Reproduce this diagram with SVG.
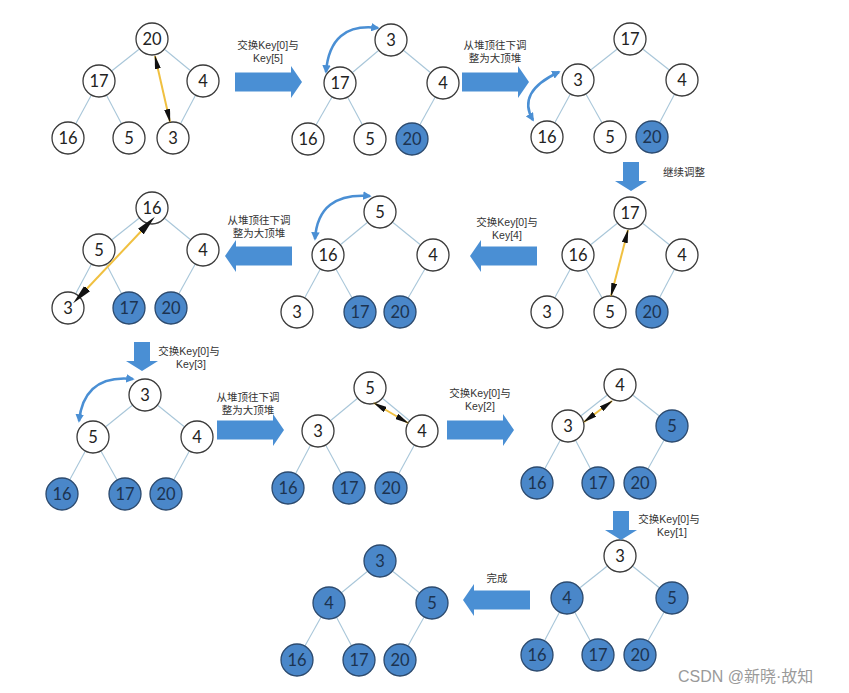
<svg xmlns="http://www.w3.org/2000/svg" width="849" height="693" viewBox="0 0 849 693">
<defs>
<style>
.n circle{fill:#fff;stroke:#3a3a3a;stroke-width:1.3}
.n text{font-family:Lato,"Open Sans","Liberation Sans",sans-serif;font-size:16.5px;fill:#222;text-anchor:middle}
.f circle{fill:#4a87c9;stroke:#2c4a6e}
.f text{fill:#1c3350}
.e line{stroke:#a8c6d9;stroke-width:1.1}
.lbl{font-family:"Liberation Sans","Noto Sans CJK SC",sans-serif;font-size:10.5px;fill:#333;text-anchor:middle}
.ba{fill:#4a8fd4}
.cv{fill:none;stroke:#4a8fd4;stroke-width:2.5;marker-start:url(#bh);marker-end:url(#bh)}
.ya{stroke:#f0c040;stroke-width:2;marker-start:url(#kh);marker-end:url(#kh)}
.yb{stroke:#f0c040;stroke-width:2;marker-start:url(#kb);marker-end:url(#kb)}
.wm{font-family:"Liberation Sans","Noto Sans CJK SC",sans-serif;font-size:16px;fill:#9a9a9a}
</style>
<marker id="bh" viewBox="0 0 10 10" refX="8" refY="5" markerWidth="3.4" markerHeight="3.4" orient="auto-start-reverse" markerUnits="strokeWidth"><path d="M0,0 L10,5 L0,10 Z" fill="#4a8fd4"/></marker>
<marker id="kh" viewBox="0 0 14 6" refX="13" refY="3" markerWidth="14" markerHeight="6" orient="auto-start-reverse" markerUnits="userSpaceOnUse"><path d="M0,0 L14,3 L0,6 Z" fill="#111"/></marker>
<marker id="kb" viewBox="0 0 20 10" refX="10" refY="5" markerWidth="20" markerHeight="10" orient="auto-start-reverse" markerUnits="userSpaceOnUse"><path d="M-6,0 L20,5 L-6,10 Z" fill="#111"/></marker>
<path id="ar" d="M0,-9.5 H56 V-16 L67,0 L56,16 V9.5 H0 Z"/>
<path id="ad" d="M-8,0 H8 V19 H16 L0,29 L-16,19 H-8 Z"/>
</defs>
<rect width="849" height="693" fill="#fff"/>

<g id="connectors">
<g class="e">
<line x1="152" y1="39" x2="99" y2="81"/><line x1="152" y1="39" x2="203" y2="81"/><line x1="99" y1="81" x2="68" y2="138"/><line x1="99" y1="81" x2="129" y2="138"/><line x1="203" y1="81" x2="173" y2="138"/>
<line x1="391" y1="40" x2="340" y2="83"/><line x1="391" y1="40" x2="443" y2="83"/><line x1="340" y1="83" x2="308" y2="139"/><line x1="340" y1="83" x2="370" y2="139"/><line x1="443" y1="83" x2="412" y2="139"/>
<line x1="630" y1="39" x2="578" y2="80"/><line x1="630" y1="39" x2="682" y2="80"/><line x1="578" y1="80" x2="547" y2="137"/><line x1="578" y1="80" x2="610" y2="137"/><line x1="682" y1="80" x2="652" y2="137"/>
<line x1="630" y1="213" x2="578" y2="255"/><line x1="630" y1="213" x2="682" y2="255"/><line x1="578" y1="255" x2="547" y2="312"/><line x1="578" y1="255" x2="610" y2="312"/><line x1="682" y1="255" x2="652" y2="312"/>
<line x1="380" y1="212" x2="328" y2="255"/><line x1="380" y1="212" x2="433" y2="255"/><line x1="328" y1="255" x2="297" y2="312"/><line x1="328" y1="255" x2="360" y2="312"/><line x1="433" y1="255" x2="400" y2="312"/>
<line x1="152" y1="208" x2="99" y2="250"/><line x1="152" y1="208" x2="203" y2="250"/><line x1="99" y1="250" x2="68" y2="308"/><line x1="99" y1="250" x2="129" y2="308"/><line x1="203" y1="250" x2="171" y2="308"/>
<line x1="145" y1="395" x2="93" y2="437"/><line x1="145" y1="395" x2="197" y2="437"/><line x1="93" y1="437" x2="62" y2="494"/><line x1="93" y1="437" x2="125" y2="494"/><line x1="197" y1="437" x2="166" y2="494"/>
<line x1="370" y1="388" x2="318" y2="431"/><line x1="370" y1="388" x2="422" y2="431"/><line x1="318" y1="431" x2="288" y2="488"/><line x1="318" y1="431" x2="349" y2="488"/><line x1="422" y1="431" x2="391" y2="488"/>
<line x1="620" y1="385" x2="568" y2="426"/><line x1="620" y1="385" x2="672" y2="426"/><line x1="568" y1="426" x2="537" y2="483"/><line x1="568" y1="426" x2="598" y2="483"/><line x1="672" y1="426" x2="640" y2="483"/>
<line x1="620" y1="556" x2="567" y2="598"/><line x1="620" y1="556" x2="672" y2="598"/><line x1="567" y1="598" x2="537" y2="655"/><line x1="567" y1="598" x2="598" y2="655"/><line x1="672" y1="598" x2="640" y2="655"/>
<line x1="380" y1="561" x2="329" y2="603"/><line x1="380" y1="561" x2="432" y2="603"/><line x1="329" y1="603" x2="297" y2="660"/><line x1="329" y1="603" x2="359" y2="660"/><line x1="432" y1="603" x2="400" y2="660"/>
</g>
</g>

<g id="nodes">
<g id="t1-root" class="n"><circle cx="152" cy="39" r="16"/><text x="152" y="45">20</text></g>
<g id="t1-l" class="n"><circle cx="99" cy="81" r="16"/><text x="99" y="87">17</text></g>
<g id="t1-r" class="n"><circle cx="203" cy="81" r="16"/><text x="203" y="87">4</text></g>
<g id="t1-ll" class="n"><circle cx="68" cy="138" r="16"/><text x="68" y="144">16</text></g>
<g id="t1-lr" class="n"><circle cx="129" cy="138" r="16"/><text x="129" y="144">5</text></g>
<g id="t1-rl" class="n"><circle cx="173" cy="138" r="16"/><text x="173" y="144">3</text></g>
<g id="t2-root" class="n"><circle cx="391" cy="40" r="16"/><text x="391" y="46">3</text></g>
<g id="t2-l" class="n"><circle cx="340" cy="83" r="16"/><text x="340" y="89">17</text></g>
<g id="t2-r" class="n"><circle cx="443" cy="83" r="16"/><text x="443" y="89">4</text></g>
<g id="t2-ll" class="n"><circle cx="308" cy="139" r="16"/><text x="308" y="145">16</text></g>
<g id="t2-lr" class="n"><circle cx="370" cy="139" r="16"/><text x="370" y="145">5</text></g>
<g id="t2-rl" class="n f"><circle cx="412" cy="139" r="16"/><text x="412" y="145">20</text></g>
<g id="t3-root" class="n"><circle cx="630" cy="39" r="16"/><text x="630" y="45">17</text></g>
<g id="t3-l" class="n"><circle cx="578" cy="80" r="16"/><text x="578" y="86">3</text></g>
<g id="t3-r" class="n"><circle cx="682" cy="80" r="16"/><text x="682" y="86">4</text></g>
<g id="t3-ll" class="n"><circle cx="547" cy="137" r="16"/><text x="547" y="143">16</text></g>
<g id="t3-lr" class="n"><circle cx="610" cy="137" r="16"/><text x="610" y="143">5</text></g>
<g id="t3-rl" class="n f"><circle cx="652" cy="137" r="16"/><text x="652" y="143">20</text></g>
<g id="t4-root" class="n"><circle cx="630" cy="213" r="16"/><text x="630" y="219">17</text></g>
<g id="t4-l" class="n"><circle cx="578" cy="255" r="16"/><text x="578" y="261">16</text></g>
<g id="t4-r" class="n"><circle cx="682" cy="255" r="16"/><text x="682" y="261">4</text></g>
<g id="t4-ll" class="n"><circle cx="547" cy="312" r="16"/><text x="547" y="318">3</text></g>
<g id="t4-lr" class="n"><circle cx="610" cy="312" r="16"/><text x="610" y="318">5</text></g>
<g id="t4-rl" class="n f"><circle cx="652" cy="312" r="16"/><text x="652" y="318">20</text></g>
<g id="t5-root" class="n"><circle cx="380" cy="212" r="16"/><text x="380" y="218">5</text></g>
<g id="t5-l" class="n"><circle cx="328" cy="255" r="16"/><text x="328" y="261">16</text></g>
<g id="t5-r" class="n"><circle cx="433" cy="255" r="16"/><text x="433" y="261">4</text></g>
<g id="t5-ll" class="n"><circle cx="297" cy="312" r="16"/><text x="297" y="318">3</text></g>
<g id="t5-lr" class="n f"><circle cx="360" cy="312" r="16"/><text x="360" y="318">17</text></g>
<g id="t5-rl" class="n f"><circle cx="400" cy="312" r="16"/><text x="400" y="318">20</text></g>
<g id="t6-root" class="n"><circle cx="152" cy="208" r="16"/><text x="152" y="214">16</text></g>
<g id="t6-l" class="n"><circle cx="99" cy="250" r="16"/><text x="99" y="256">5</text></g>
<g id="t6-r" class="n"><circle cx="203" cy="250" r="16"/><text x="203" y="256">4</text></g>
<g id="t6-ll" class="n"><circle cx="68" cy="308" r="16"/><text x="68" y="314">3</text></g>
<g id="t6-lr" class="n f"><circle cx="129" cy="308" r="16"/><text x="129" y="314">17</text></g>
<g id="t6-rl" class="n f"><circle cx="171" cy="308" r="16"/><text x="171" y="314">20</text></g>
<g id="t7-root" class="n"><circle cx="145" cy="395" r="16"/><text x="145" y="401">3</text></g>
<g id="t7-l" class="n"><circle cx="93" cy="437" r="16"/><text x="93" y="443">5</text></g>
<g id="t7-r" class="n"><circle cx="197" cy="437" r="16"/><text x="197" y="443">4</text></g>
<g id="t7-ll" class="n f"><circle cx="62" cy="494" r="16"/><text x="62" y="500">16</text></g>
<g id="t7-lr" class="n f"><circle cx="125" cy="494" r="16"/><text x="125" y="500">17</text></g>
<g id="t7-rl" class="n f"><circle cx="166" cy="494" r="16"/><text x="166" y="500">20</text></g>
<g id="t8-root" class="n"><circle cx="370" cy="388" r="16"/><text x="370" y="394">5</text></g>
<g id="t8-l" class="n"><circle cx="318" cy="431" r="16"/><text x="318" y="437">3</text></g>
<g id="t8-r" class="n"><circle cx="422" cy="431" r="16"/><text x="422" y="437">4</text></g>
<g id="t8-ll" class="n f"><circle cx="288" cy="488" r="16"/><text x="288" y="494">16</text></g>
<g id="t8-lr" class="n f"><circle cx="349" cy="488" r="16"/><text x="349" y="494">17</text></g>
<g id="t8-rl" class="n f"><circle cx="391" cy="488" r="16"/><text x="391" y="494">20</text></g>
<g id="t9-root" class="n"><circle cx="620" cy="385" r="16"/><text x="620" y="391">4</text></g>
<g id="t9-l" class="n"><circle cx="568" cy="426" r="16"/><text x="568" y="432">3</text></g>
<g id="t9-r" class="n f"><circle cx="672" cy="426" r="16"/><text x="672" y="432">5</text></g>
<g id="t9-ll" class="n f"><circle cx="537" cy="483" r="16"/><text x="537" y="489">16</text></g>
<g id="t9-lr" class="n f"><circle cx="598" cy="483" r="16"/><text x="598" y="489">17</text></g>
<g id="t9-rl" class="n f"><circle cx="640" cy="483" r="16"/><text x="640" y="489">20</text></g>
<g id="t10-root" class="n"><circle cx="620" cy="556" r="16"/><text x="620" y="562">3</text></g>
<g id="t10-l" class="n f"><circle cx="567" cy="598" r="16"/><text x="567" y="604">4</text></g>
<g id="t10-r" class="n f"><circle cx="672" cy="598" r="16"/><text x="672" y="604">5</text></g>
<g id="t10-ll" class="n f"><circle cx="537" cy="655" r="16"/><text x="537" y="661">16</text></g>
<g id="t10-lr" class="n f"><circle cx="598" cy="655" r="16"/><text x="598" y="661">17</text></g>
<g id="t10-rl" class="n f"><circle cx="640" cy="655" r="16"/><text x="640" y="661">20</text></g>
<g id="t11-root" class="n f"><circle cx="380" cy="561" r="16"/><text x="380" y="567">3</text></g>
<g id="t11-l" class="n f"><circle cx="329" cy="603" r="16"/><text x="329" y="609">4</text></g>
<g id="t11-r" class="n f"><circle cx="432" cy="603" r="16"/><text x="432" y="609">5</text></g>
<g id="t11-ll" class="n f"><circle cx="297" cy="660" r="16"/><text x="297" y="666">16</text></g>
<g id="t11-lr" class="n f"><circle cx="359" cy="660" r="16"/><text x="359" y="666">17</text></g>
<g id="t11-rl" class="n f"><circle cx="400" cy="660" r="16"/><text x="400" y="666">20</text></g>
</g>

<g id="swaps">
<line class="ya" x1="155" y1="56" x2="170" y2="122"/>
<line class="ya" x1="628" y1="230" x2="611" y2="296"/>
<line class="yb" x1="148" y1="224" x2="80" y2="296"/>
<line class="ya" x1="374" y1="403" x2="408" y2="423"/>
<line class="ya" x1="584" y1="422" x2="612" y2="401"/>
<path class="cv" d="M326,72 Q330,22 378,28"/>
<path class="cv" d="M559,72 Q516,92 533,120"/>
<path class="cv" d="M315,239 Q318,192 370,196"/>
<path class="cv" d="M79,421 Q84,374 133,379"/>
</g>

<g id="steps">
<use href="#ar" class="ba" transform="translate(235,82)"/>
<use href="#ar" class="ba" transform="translate(462,82)"/>
<use href="#ad" class="ba" transform="translate(631,162)"/>
<use href="#ar" class="ba" transform="translate(537,256) rotate(180)"/>
<use href="#ar" class="ba" transform="translate(292,256) rotate(180)"/>
<use href="#ad" class="ba" transform="translate(142,342)"/>
<use href="#ar" class="ba" transform="translate(217,430)"/>
<use href="#ar" class="ba" transform="translate(447,430)"/>
<use href="#ad" class="ba" transform="translate(621,511)"/>
<use href="#ar" class="ba" transform="translate(530,600) rotate(180)"/>
</g>

<g id="labels">
<text class="lbl" x="268" y="49">交换Key[0]与</text>
<text class="lbl" x="268" y="62">Key[5]</text>
<text class="lbl" x="495" y="49">从堆顶往下调</text>
<text class="lbl" x="495" y="62">整为大顶堆</text>
<text class="lbl" x="684" y="176">继续调整</text>
<text class="lbl" x="507" y="226">交换Key[0]与</text>
<text class="lbl" x="507" y="239">Key[4]</text>
<text class="lbl" x="259" y="224">从堆顶往下调</text>
<text class="lbl" x="259" y="237">整为大顶堆</text>
<text class="lbl" x="189" y="355">交换Key[0]与</text>
<text class="lbl" x="191" y="368">Key[3]</text>
<text class="lbl" x="248" y="401">从堆顶往下调</text>
<text class="lbl" x="248" y="414">整为大顶堆</text>
<text class="lbl" x="480" y="397">交换Key[0]与</text>
<text class="lbl" x="480" y="410">Key[2]</text>
<text class="lbl" x="669" y="523">交换Key[0]与</text>
<text class="lbl" x="672" y="536">Key[1]</text>
<text class="lbl" x="497" y="582">完成</text>
</g>
<text class="wm" x="678" y="682">CSDN @新晓·故知</text>
</svg>
